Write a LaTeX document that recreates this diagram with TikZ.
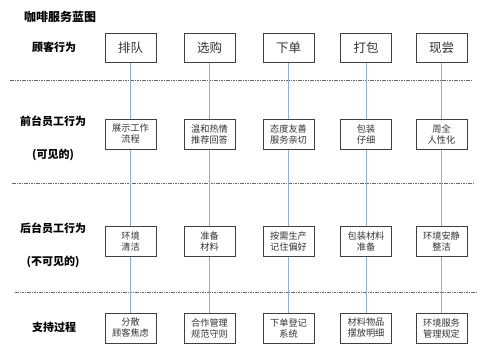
\documentclass[tikz,border=0pt]{standalone}
\usepackage{fontspec}
\setmainfont{Noto Sans CJK SC}
\definecolor{boxline}{HTML}{404040}
\definecolor{conn}{HTML}{8EB0D6}
\definecolor{txt}{HTML}{333333}
\begin{document}
\begin{tikzpicture}[x=1pt,y=-1pt,
  bigbox/.style={draw=boxline,line width=1pt,minimum width=51pt,minimum height=29pt,inner sep=0pt,text=txt,font=\fontsize{12.5}{14}\selectfont},
  smallbox/.style={draw=boxline,line width=1pt,minimum width=51pt,minimum height=30pt,inner sep=0pt,text=txt,align=center,font=\fontsize{9.2}{11}\selectfont},
  lbl/.style={font=\bfseries\fontsize{11}{13}\selectfont,text=black,inner sep=0pt},
  sep/.style={draw=boxline!80,line width=0.9pt,dash pattern=on 1.6pt off 0.8pt},
  conline/.style={draw=conn,line width=0.9pt}]
\useasboundingbox (0,0) rectangle (500,362);
% title and labels
\node[lbl,anchor=west,font=\bfseries\fontsize{12}{14}\selectfont] (title) at (24,17) {咖啡服务蓝图};
\node[lbl] (l1) at (54,47) {顾客行为};
\node[lbl] (l2) at (53,121) {前台员工行为};
\node[lbl] (l2b) at (53,155) {(可见的)};
\node[lbl] (l3) at (53,228) {后台员工行为};
\node[lbl] (l3b) at (53,262) {(不可见的)};
\node[lbl] (l4) at (54,327) {支持过程};
% separators
\coordinate (s1a) at (10,80); \coordinate (s1b) at (472,80);
\coordinate (s2a) at (12,183); \coordinate (s2b) at (473,183);
\coordinate (s3a) at (15,292); \coordinate (s3b) at (477,292);
\draw[sep] (s1a) -- (s1b);
\draw[sep] (s2a) -- (s2b);
\draw[sep] (s3a) -- (s3b);
% connectors first (behind boxes)
\foreach \x/\n in {130.5/1,209.5/2,288.5/3,366/4,441.5/5}{
  \coordinate (c\n) at (\x,0);
}
% boxes
\node[bigbox] (a1) at (130.5,47.5) {排队};
\node[bigbox] (a2) at (209.5,47.5) {选购};
\node[bigbox] (a3) at (288.5,47.5) {下单};
\node[bigbox] (a4) at (366,47.5) {打包};
\node[bigbox] (a5) at (441.5,47.5) {现尝};
\node[smallbox] (b1) at (130.5,134) {展示工作\\流程};
\node[smallbox] (b2) at (209.5,134) {温和热情\\推荐回答};
\node[smallbox] (b3) at (288.5,134) {态度友善\\服务亲切};
\node[smallbox] (b4) at (366,134) {包装\\仔细};
\node[smallbox] (b5) at (441.5,134) {周全\\人性化};
\node[smallbox] (d1) at (130.5,241) {环境\\清洁};
\node[smallbox] (d2) at (209.5,241) {准备\\材料};
\node[smallbox] (d3) at (288.5,241) {按需生产\\记住偏好};
\node[smallbox] (d4) at (366,241) {包装材料\\准备};
\node[smallbox] (d5) at (441.5,241) {环境安静\\整洁};
\node[smallbox] (e1) at (130.5,328) {分散\\顾客焦虑};
\node[smallbox] (e2) at (209.5,328) {合作管理\\规范守则};
\node[smallbox] (e3) at (288.5,328) {下单登记\\系统};
\node[smallbox] (e4) at (366,328) {材料物品\\摆放明细};
\node[smallbox] (e5) at (441.5,328) {环境服务\\管理规定};
\foreach \n in {1,...,5}{
  \draw[conline] (a\n.south) -- (b\n.north);
  \draw[conline] (b\n.south) -- (d\n.north);
  \draw[conline] (d\n.south) -- (e\n.north);
}
\end{tikzpicture}
\end{document}
